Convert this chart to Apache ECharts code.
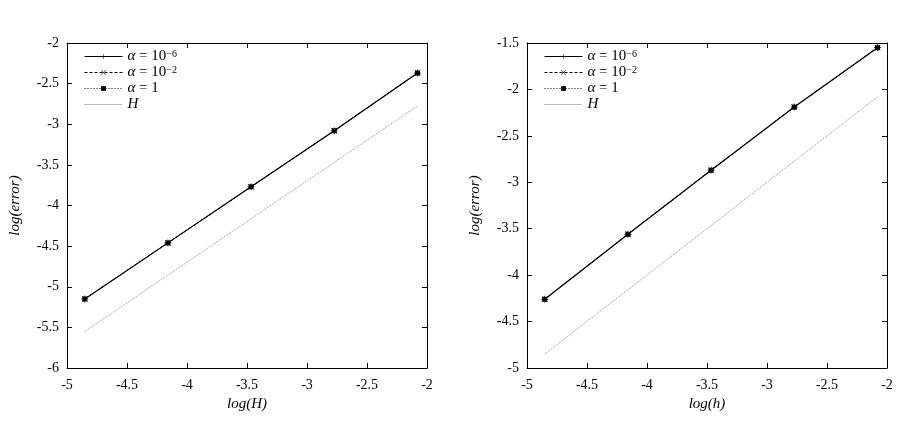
<!DOCTYPE html>
<html>
<head>
<meta charset="utf-8">
<script src="https://cdn.jsdelivr.net/npm/echarts@6/dist/echarts.min.js"></script>
<style>
  html, body { margin: 0; padding: 0; background: #fff; }
  #chart { width: 904px; height: 424px; }
</style>
</head>
<body>
<div id="chart"></div>
<script>
// log of mesh size (1/128 ... 1/8)
var logSize = [-4.852, -4.159, -3.466, -2.773, -2.079];

// left panel: error vs log(H)
var leftAlpha6 = [-5.15, -4.46, -3.77, -3.08, -2.37];
var leftAlpha2 = [-5.15, -4.46, -3.77, -3.08, -2.37];
var leftAlpha0 = [-5.15, -4.46, -3.77, -3.08, -2.37];
var leftRef = [-5.55, -2.775];

// right panel: error vs log(h)
var rightAlpha6 = [-4.26, -3.56, -2.87, -2.19, -1.55];
var rightAlpha2 = [-4.26, -3.56, -2.87, -2.19, -1.55];
var rightAlpha0 = [-4.26, -3.56, -2.87, -2.19, -1.55];
var rightRef = [-4.85, -2.08];

var refX = [logSize[0], logSize[4]];

var FONT = "Liberation Serif";
var plusPath = "path://M4.5,0H5.5V10H4.5Z M0,4.5H10V5.5H0Z";
var crossPath = "path://M0.7,0L5,4.3L9.3,0L10,0.7L5.7,5L10,9.3L9.3,10L5,5.7L0.7,10L0,9.3L4.3,5L0,0.7Z";

function pairs(xs, ys) {
  var out = [];
  for (var i = 0; i < ys.length; i++) out.push([xs[i], ys[i]]);
  return out;
}

function makeSeries(idx, a6, a2, a0, ref) {
  return [
    {
      name: "a6", type: "line", xAxisIndex: idx * 2, yAxisIndex: idx * 2,
      data: pairs(logSize, a6), symbol: plusPath, symbolSize: 7,
      lineStyle: { color: "#000", width: 1.2, type: "solid" },
      itemStyle: { color: "#000" }, z: 4
    },
    {
      name: "a2", type: "line", xAxisIndex: idx * 2, yAxisIndex: idx * 2,
      data: pairs(logSize, a2), symbol: crossPath, symbolSize: 6,
      lineStyle: { color: "#000", width: 1, type: [3, 2] },
      itemStyle: { color: "#000" }, z: 3
    },
    {
      name: "a0", type: "line", xAxisIndex: idx * 2, yAxisIndex: idx * 2,
      data: pairs(logSize, a0), symbol: "rect", symbolSize: 5,
      lineStyle: { color: "#000", width: 1, type: [1, 2] },
      itemStyle: { color: "#000" }, z: 2
    },
    {
      name: "H", type: "line", xAxisIndex: idx * 2, yAxisIndex: idx * 2,
      data: pairs(refX, ref), symbol: "none",
      lineStyle: { color: "#777", width: 0.8, type: [1, 1] },
      itemStyle: { color: "#777" }, z: 1
    }
  ];
}

function makeX(gridIndex, name) {
  return [
    {
      type: "value", gridIndex: gridIndex, min: -5, max: -2, interval: 0.5,
      position: "bottom",
      name: name, nameLocation: "middle", nameGap: 28,
      nameTextStyle: { fontFamily: FONT, fontStyle: "italic", fontSize: 15, color: "#000" },
      axisLine: { show: true, onZero: false, lineStyle: { color: "#000", width: 1 } },
      axisTick: { show: true, inside: true, length: 5, lineStyle: { color: "#000" } },
      axisLabel: { fontFamily: FONT, fontSize: 14, color: "#000", margin: 10, showMinLabel: true, showMaxLabel: true },
      splitLine: { show: false }
    },
    {
      type: "value", gridIndex: gridIndex, min: -5, max: -2, interval: 0.5,
      position: "top",
      axisLine: { show: true, onZero: false, lineStyle: { color: "#000", width: 1 } },
      axisTick: { show: true, inside: true, length: 5, lineStyle: { color: "#000" } },
      axisLabel: { show: false },
      splitLine: { show: false }
    }
  ];
}

function makeY(gridIndex, min, max) {
  return [
    {
      type: "value", gridIndex: gridIndex, min: min, max: max, interval: 0.5,
      position: "left",
      name: "log(error)", nameLocation: "middle", nameGap: 44, nameRotate: 90,
      nameTextStyle: { fontFamily: FONT, fontStyle: "italic", fontSize: 15, color: "#000" },
      axisLine: { show: true, onZero: false, lineStyle: { color: "#000", width: 1 } },
      axisTick: { show: true, inside: true, length: 5, lineStyle: { color: "#000" } },
      axisLabel: { fontFamily: FONT, fontSize: 14, color: "#000", margin: 8, showMinLabel: true, showMaxLabel: true },
      splitLine: { show: false }
    },
    {
      type: "value", gridIndex: gridIndex, min: min, max: max, interval: 0.5,
      position: "right",
      axisLine: { show: true, onZero: false, lineStyle: { color: "#000", width: 1 } },
      axisTick: { show: true, inside: true, length: 5, lineStyle: { color: "#000" } },
      axisLabel: { show: false },
      splitLine: { show: false }
    }
  ];
}

var legendRich = {
  t: { fontFamily: FONT, fontStyle: "italic", fontSize: 15, color: "#000", lineHeight: 14 },
  n: { fontFamily: FONT, fontSize: 15, color: "#000", lineHeight: 14 },
  s: { fontFamily: FONT, fontSize: 10, color: "#000", lineHeight: 14, verticalAlign: "top" }
};

function legendFormat(name) {
  if (name === "a6") return "{t|α} {n|= 10}{s|−6}";
  if (name === "a2") return "{t|α} {n|= 10}{s|−2}";
  if (name === "a0") return "{t|α} {n|= 1}";
  return "{t|H}";
}

function makeLegend(left) {
  return {
    data: ["a6", "a2", "a0", { name: "H", itemStyle: { opacity: 0 } }],
    orient: "vertical", left: left, top: 49,
    itemWidth: 38, itemHeight: 6, itemGap: 1, padding: 0,
    lineStyle: { width: 1 },
    formatter: legendFormat, selectedMode: false,
    textStyle: { rich: legendRich, fontFamily: FONT, fontSize: 15, lineHeight: 14, color: "#000" }
  };
}

var chart = echarts.init(document.getElementById("chart"));

var option = {
  backgroundColor: "#fff",
  animation: false,
  grid: [
    { left: 67, right: 477, top: 43, bottom: 56 },
    { left: 527, right: 17, top: 43, bottom: 56 }
  ],
  legend: [makeLegend(84), makeLegend(544)],
  xAxis: makeX(0, "log(H)").concat(makeX(1, "log(h)")),
  yAxis: makeY(0, -6, -2).concat(makeY(1, -5, -1.5)),
  series: makeSeries(0, leftAlpha6, leftAlpha2, leftAlpha0, leftRef)
    .concat(makeSeries(1, rightAlpha6, rightAlpha2, rightAlpha0, rightRef))
};

chart.setOption(option);
</script>
</body>
</html>
